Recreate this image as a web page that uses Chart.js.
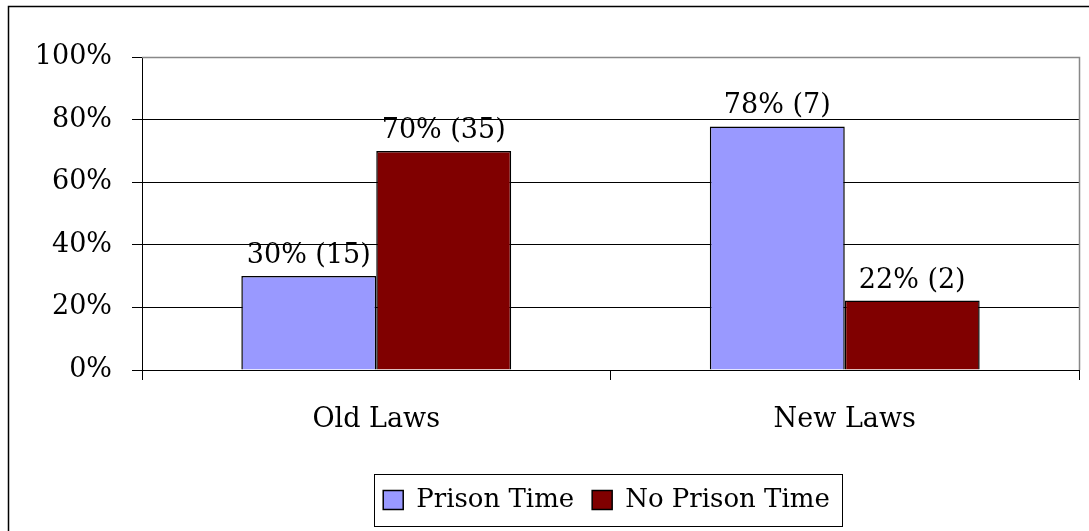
<!DOCTYPE html>
<html>
<head>
<meta charset="utf-8">
<script src="https://cdn.jsdelivr.net/npm/chart.js@4.4.0/dist/chart.umd.min.js"></script>
<style>
  html, body { margin: 0; padding: 0; background: #fff; }
  #wrap { width: 1089px; height: 531px; }
</style>
</head>
<body>
<div id="wrap"><canvas id="lawsChart" width="1089" height="531"></canvas></div>
<script>
// data
var categories = ['Old Laws', 'New Laws'];
var prisonPct = [30, 77.8];
var noPrisonPct = [70, 22.2];
var prisonCount = [15, 7];
var noPrisonCount = [35, 2];
var yTicks = [0, 20, 40, 60, 80, 100];

var serif = '"DejaVu Serif", "Liberation Serif", serif';
var fontSize = 27;
var legendFont = 26;
var legendPad = 18;

// outer frame, plot border and legend box
var framePlugin = {
    id: 'frame',
    afterUpdate: function (chart) {
        // centre the legend under the plot area, like Excel does
        var lg = chart.legend;
        lg.left = chart.chartArea.left - 8;
        lg.width = lg.right - lg.left;
        var hb = lg.legendHitBoxes;
        var tops = hb.map(function (h) { return h.top; });
        lg.adjustHitBoxes();
        // adjustHitBoxes adds to top, keep the old ones
        hb.forEach(function (h, i) { h.top = tops[i]; });
    },
    beforeDraw: function (chart) {
        var c = chart.ctx;
        c.save();
        c.fillStyle = '#fff';
        c.fillRect(0, 0, chart.width, chart.height);
        c.strokeStyle = '#000';
        c.lineWidth = 1.5;
        c.strokeRect(8.5, 6.5, chart.width + 20, chart.height + 20);
        c.restore();
    },
    afterDraw: function (chart) {
        var c = chart.ctx, a = chart.chartArea;
        c.save();
        c.strokeStyle = '#888';
        c.lineWidth = 1.5;
        c.beginPath();
        c.moveTo(a.left, a.top + 0.5);
        c.lineTo(a.right + 0.5, a.top + 0.5);
        c.lineTo(a.right + 0.5, a.bottom);
        c.stroke();
        // legend border
        var lg = chart.legend;
        var hb = lg.legendHitBoxes;
        if (hb && hb.length) {
            var last = hb[hb.length - 1];
            var l = hb[0].left - 9, r = last.left + last.width + 12;
            var itemTop = lg.top + legendPad;
            var t = itemTop - 13, b = itemTop + legendFont + 13;
            c.strokeStyle = '#000';
            c.lineWidth = 1;
            c.strokeRect(Math.round(l) + 0.5, Math.round(t) + 0.5, Math.round(r - l), Math.round(b - t));
        }
        c.restore();
    }
};

// "30% (15)" style labels above each bar
var labelPlugin = {
    id: 'barLabels',
    afterDatasetsDraw: function (chart) {
        var c = chart.ctx;
        var counts = [prisonCount, noPrisonCount];
        c.save();
        c.font = fontSize + 'px ' + serif;
        c.fillStyle = '#000';
        c.textAlign = 'center';
        c.textBaseline = 'alphabetic';
        chart.data.datasets.forEach(function (ds, i) {
            chart.getDatasetMeta(i).data.forEach(function (bar, j) {
                var txt = Math.round(ds.data[j]) + '% (' + counts[i][j] + ')';
                c.fillText(txt, bar.x, bar.y - 13);
            });
        });
        c.restore();
    }
};

var ctx = document.getElementById('lawsChart').getContext('2d');
var lawsChart = new Chart(ctx, {
    type: 'bar',
    data: {
        labels: categories,
        datasets: [{
            label: 'Prison Time',
            data: prisonPct,
            backgroundColor: '#9999ff',
            borderColor: '#000',
            borderWidth: 1.5
        }, {
            label: 'No Prison Time',
            data: noPrisonPct,
            backgroundColor: '#800000',
            borderColor: '#000',
            borderWidth: 1.5
        }]
    },
    options: {
        responsive: false,
        animation: false,
        devicePixelRatio: 1,
        layout: { padding: { left: 0, right: 10, top: 57, bottom: 8 } },
        datasets: { bar: { categoryPercentage: 0.576, barPercentage: 1 } },
        plugins: {
            tooltip: { enabled: false },
            legend: {
                position: 'bottom',
                labels: {
                    color: '#000',
                    font: { family: serif, size: legendFont },
                    boxWidth: 20,
                    boxHeight: 19,
                    padding: legendPad
                }
            }
        },
        scales: {
            x: {
                offset: true,
                grid: {
                    offset: true,
                    drawOnChartArea: false,
                    drawTicks: true,
                    tickLength: 10,
                    color: '#000'
                },
                border: { color: '#000', width: 1 },
                ticks: {
                    color: '#000',
                    font: { family: serif, size: fontSize },
                    padding: 24
                },
                afterFit: function (scale) { scale.height = 99; }
            },
            y: {
                min: 0,
                max: 100,
                afterBuildTicks: function (scale) {
                    scale.ticks = yTicks.map(function (v) { return { value: v }; });
                },
                grid: {
                    color: function (c) { return c.tick && c.tick.value === 100 ? '#888' : '#000'; },
                    lineWidth: 1,
                    drawTicks: true,
                    tickLength: 10,
                    tickColor: '#000'
                },
                border: { color: '#000', width: 1 },
                ticks: {
                    color: '#000',
                    font: { family: serif, size: fontSize },
                    padding: 20,
                    callback: function (v) { return v + '%'; }
                },
                afterFit: function (scale) { scale.width = 142; }
            }
        }
    },
    plugins: [framePlugin, labelPlugin]
});
</script>
</body>
</html>
